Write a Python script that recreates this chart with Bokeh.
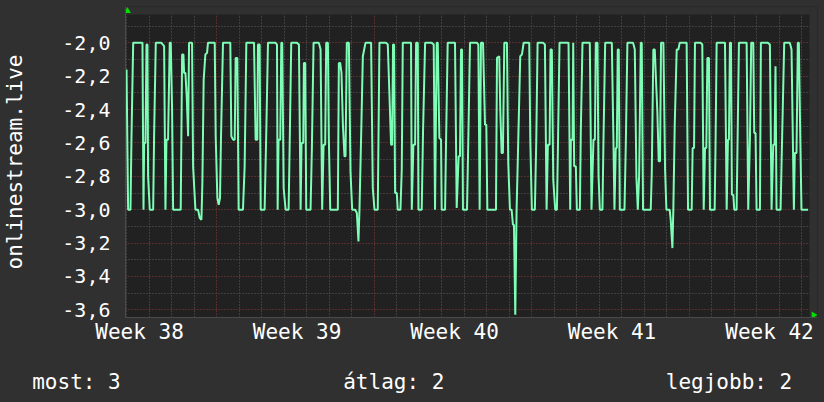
import math
from bokeh.plotting import figure
from bokeh.layouts import column
from bokeh.models import FixedTicker, Range1d, ColumnDataSource
from bokeh.core.properties import value
from bokeh.embed import file_html
from bokeh.resources import INLINE

# ---- data (hours from left edge of graph, value) ----
hours = [
    1.1, 2.8, 5.3, 6.4, 8.2, 18.1, 19.2, 19.9, 21.3, 22.4, 23.4, 24.1, 25.9, 29.5, 30.5,
    32.3, 38.3, 41.2, 42.6, 43.7, 45.4, 47.2, 48.3, 49.7, 50.8, 58.9, 60.4, 61.8, 62.5, 63.9,
    65.3, 66.8, 67.8, 71.0, 72.1, 74.6, 77.4, 79.2, 81.0, 82.0, 83.4, 85.2, 87.0, 88.0, 95.2,
    96.2, 98.0, 99.4, 100.8, 101.9, 104.0, 111.8, 112.9, 114.7, 116.5, 117.5, 119.3, 120.7, 125.3, 127.1,
    128.9, 137.1, 138.8, 140.6,
    141.3, 143.1, 144.2, 148.4, 150.2, 152.0, 160.1, 161.6, 162.3, 163.3, 165.1, 166.2, 167.2, 168.7, 170.8,
    174.0, 175.0, 176.8, 182.9, 185.0, 186.8, 187.8, 189.6, 190.3, 191.7, 192.8, 197.4, 198.8, 200.6, 206.3,
    208.1, 209.8, 211.3, 213.0, 214.1, 215.9, 216.9, 218.4, 226.5, 227.6, 229.0, 230.4, 231.9, 233.6, 234.7,
    236.1, 238.3, 240.0, 241.8, 245.0, 246.8, 248.5, 249.6, 251.4, 253.2, 256.0, 262.0, 263.8, 265.6, 269.1,
    270.9, 278.0, 279.8, 283.3,
    284.4, 285.4, 286.5, 287.6, 289.4, 290.4, 293.3, 294.7, 295.8, 304.6, 305.4, 307.1, 308.9, 310.0, 311.8,
    312.5, 316.0, 317.4, 319.6, 326.7, 328.8, 330.2, 332.0, 333.1, 334.8, 336.6, 337.3, 340.9, 341.9, 343.7,
    351.5, 353.3, 355.4, 356.8, 357.9, 359.0, 360.0, 364.3, 365.7, 367.5, 375.0, 376.4, 377.8, 379.2, 381.4,
    383.5, 384.9, 386.0, 395.2, 396.3, 398.7, 399.8, 401.2, 402.6, 404.1, 406.9, 408.3, 410.1, 411.9, 413.3,
    414.4, 415.8, 417.2, 419.0, 421.1, 422.9, 424.7, 430.7, 431.8,
    433.5, 436.7, 438.2, 439.6, 445.6, 447.4, 449.2, 450.6, 452.4, 453.4, 454.8, 456.3, 458.4, 460.2, 461.2,
    463.0, 472.6, 474.4, 475.1, 476.9, 477.6, 478.6, 480.4, 481.5, 484.7, 485.7, 487.5, 495.3, 497.1, 499.2,
    500.7, 501.7, 503.5, 504.6, 506.0, 508.8, 509.9, 511.7, 518.8, 520.5, 521.6, 523.0, 524.1, 525.1, 526.2,
    527.3, 532.3, 533.7, 535.4, 541.5, 543.3, 545.0, 546.5, 547.9, 549.7, 550.7, 552.1, 560.3, 561.4, 563.1,
    564.6, 565.6, 567.4, 568.8, 570.2, 571.3, 573.8, 575.6, 577.0,
    580.5, 581.6, 583.4, 584.4, 585.9, 588.0, 589.8, 591.2, 598.6, 600.1, 604.0, 605.0, 606.5, 607.5, 613.6,
    615.3, 616.8, 618.2, 619.6, 620.7, 622.4, 623.5, 628.5, 629.5, 630.6, 639.5, 641.3, 642.7, 643.7, 644.8,
    645.9, 646.9, 648.4, 649.4, 651.9, 653.0, 654.4, 662.6, 664.3, 666.1, 667.5, 669.7, 670.7, 672.1, 673.2,
    676.8, 677.8, 685.3, 687.4, 689.2, 691.0, 692.4, 693.4, 694.5, 698.8, 700.6, 702.7, 708.7, 710.5, 713.0,
    714.0, 715.8, 717.2, 718.3, 719.7, 721.1, 728.2,
]
values = [
    -2.16, -3.0, -3.0, -2.56, -2.0, -2.0, -3.0, -2.6, -2.6, -2.01, -2.01, -2.8, -3.0, -3.0, -2.56,
    -2.0, -2.0, -2.02, -3.0, -2.58, -2.58, -2.0, -2.0, -2.4, -3.0, -3.0, -2.07, -2.07, -2.18, -2.18,
    -2.32, -2.56, -2.0, -2.0, -2.74, -3.0, -3.0, -3.05, -3.06, -2.84, -2.22, -2.07, -2.06, -2.0, -2.0,
    -2.56, -2.93, -2.97, -2.93, -2.56, -2.0, -2.0, -2.56, -2.58, -2.58, -2.09, -2.09, -3.0, -3.0, -2.74,
    -2.0, -2.0, -2.58, -2.58,
    -2.01, -2.01, -3.0, -3.0, -2.53, -2.0, -2.0, -2.01, -3.0, -2.58, -2.58, -2.0, -2.0, -2.87, -3.0,
    -3.0, -2.66, -2.0, -2.0, -2.01, -3.0, -2.6, -2.6, -2.12, -2.12, -3.0, -3.0, -2.64, -2.0, -2.0,
    -2.04, -3.0, -2.61, -2.61, -2.0, -2.0, -2.57, -3.0, -3.0, -2.12, -2.12, -2.18, -2.49, -2.68, -2.68,
    -2.0, -2.0, -2.77, -3.0, -3.0, -3.02, -3.19, -3.0, -2.55, -2.08, -2.0, -2.0, -2.87, -3.0, -3.0,
    -2.0, -2.0, -2.01, -2.61,
    -2.61, -2.01, -2.01, -2.9, -2.9, -3.0, -3.0, -2.76, -2.0, -2.0, -3.0, -2.61, -2.61, -2.0, -2.0,
    -3.0, -3.0, -2.53, -2.0, -2.0, -2.01, -3.0, -2.0, -2.0, -2.57, -2.58, -3.0, -3.0, -2.61, -2.0,
    -2.0, -2.99, -2.68, -2.68, -2.04, -2.04, -3.0, -3.0, -2.58, -2.0, -2.0, -2.01, -3.0, -2.0, -2.0,
    -2.49, -2.49, -3.0, -3.0, -2.09, -2.08, -2.4, -2.66, -2.66, -2.0, -2.0, -2.72, -3.0, -3.0, -3.09,
    -3.09, -3.63, -3.0, -2.58, -2.08, -2.07, -2.0, -2.0, -2.58,
    -3.0, -3.0, -2.58, -2.0, -2.0, -2.01, -3.0, -2.61, -2.61, -2.04, -2.04, -2.82, -3.0, -3.0, -2.66,
    -2.0, -2.0, -3.0, -2.58, -2.58, -2.0, -2.74, -2.74, -3.0, -3.0, -2.53, -2.0, -2.0, -3.0, -2.58,
    -2.58, -2.0, -2.0, -2.79, -3.0, -3.0, -2.58, -2.0, -2.0, -2.58, -3.0, -2.63, -2.63, -2.04, -2.04,
    -3.0, -3.0, -2.61, -2.0, -2.0, -2.04, -2.8, -3.0, -2.8, -2.0, -2.0, -3.0, -3.0, -2.78, -2.04,
    -2.04, -2.18, -2.42, -2.71, -2.71, -2.0, -2.0, -2.76, -3.0,
    -3.0, -3.06, -3.23, -3.0, -2.49, -2.04, -2.04, -2.0, -2.0, -3.0, -3.0, -2.63, -2.63, -2.0, -2.0,
    -2.01, -3.0, -2.63, -2.63, -2.09, -2.09, -3.0, -3.0, -2.58, -2.0, -2.0, -3.0, -2.58, -2.58, -2.0,
    -2.0, -2.91, -2.91, -3.0, -3.0, -2.56, -2.0, -2.0, -3.0, -2.58, -2.0, -2.0, -2.54, -2.54, -3.0,
    -3.0, -2.0, -2.0, -2.01, -3.0, -2.61, -2.61, -2.14, -3.0, -3.0, -2.53, -2.0, -2.0, -2.04, -3.0,
    -2.66, -2.66, -2.0, -2.0, -2.52, -3.0, -3.0,
]

y_ticks = [-2.0, -2.2, -2.4, -2.6, -2.8, -3.0, -3.2, -3.4, -3.6]
y_tick_labels = ["-2,0", "-2,2", "-2,4", "-2,6", "-2,8", "-3,0", "-3,2", "-3,4", "-3,6"]
y_minor = [-1.9, -2.1, -2.3, -2.5, -2.7, -2.9, -3.1, -3.3, -3.5]

week_label_hours = [15, 183, 351, 519, 687]
week_labels = ["Week 38", "Week 39", "Week 40", "Week 41", "Week 42"]
week_start_hours = [97.5, 265.5, 433.5, 601.5]
day_hours = [1.5, 25.5, 49.5, 73.5, 121.5, 145.5, 169.5, 193.5, 217.5, 241.5,
             289.5, 313.5, 337.5, 361.5, 385.5, 409.5, 457.5, 481.5, 505.5, 529.5,
             553.5, 577.5, 625.5, 649.5, 673.5, 697.5, 721.5]

series_name = "onlinestream.live"
legend_names = ["most", "átlag", "legjobb"]
legend_values = [3, 2, 2]

# ---- styling / geometry ----
FONT = "DejaVu Sans Mono"
TEXT = "#ffffff"
OUTER = "#303030"
INNER = "#212121"
X_END, X_PAD = 729.7, 8.5        # graph time span (h) and room for the axis arrow
Y_MIN, Y_MAX, Y_PAD = -3.646, -1.830, 0.048

p = figure(width=824, height=352,
           x_range=Range1d(0, X_END + X_PAD), y_range=Range1d(Y_MIN, Y_MAX + Y_PAD),
           output_backend="svg", toolbar_location=None,
           min_border_left=124, min_border_right=7, min_border_top=6, min_border_bottom=35,
           background_fill_color=INNER, border_fill_color=OUTER,
           outline_line_color=None)

# grids
p.xgrid.ticker = FixedTicker(ticks=week_start_hours, minor_ticks=day_hours)
p.ygrid.ticker = FixedTicker(ticks=y_ticks, minor_ticks=y_minor)
for g in (p.xgrid, p.ygrid):
    g.grid_line_color = "#8c3c3c"
    g.grid_line_dash = "1 2"
    g.grid_line_width = 1
    g.minor_grid_line_color = "#5e5e5e"
    g.minor_grid_line_dash = "1 2"
    g.minor_grid_line_width = 1

# axes
p.xaxis.ticker = FixedTicker(ticks=week_label_hours)
p.xaxis.major_label_overrides = {h: lab for h, lab in zip(week_label_hours, week_labels)}
p.yaxis.ticker = FixedTicker(ticks=y_ticks)
p.yaxis.major_label_overrides = {t: lab for t, lab in zip(y_ticks, y_tick_labels)}
for ax in (p.xaxis, p.yaxis):
    ax.major_tick_line_color = None
    ax.minor_tick_line_color = None
    ax.major_tick_out = 0
    ax.major_tick_in = 0
    ax.axis_line_color = "#4a4a4a"
    ax.major_label_text_font = FONT
    ax.major_label_text_color = TEXT
p.xaxis.major_label_text_font_size = "21px"
p.yaxis.major_label_text_font_size = "20px"
p.xaxis.major_label_standoff = 2
p.yaxis.major_label_standoff = 15
p.yaxis.axis_label = series_name
p.yaxis.axis_label_text_font = FONT
p.yaxis.axis_label_text_font_size = "21px"
p.yaxis.axis_label_text_font_style = "normal"
p.yaxis.axis_label_text_color = TEXT
p.yaxis.axis_label_standoff = 32

# strips outside the graph area (room for the arrows)
p.quad(left=[0, X_END], right=[X_END + X_PAD, X_END + X_PAD],
       bottom=[Y_MAX, Y_MIN], top=[Y_MAX + Y_PAD, Y_MAX + Y_PAD],
       fill_color=OUTER, line_color=None)

p.line(hours, values, line_color="#7dfdb5", line_width=2)

# axis arrows
p.scatter(x=[2.1], y=[Y_MAX + 0.021], marker="triangle", size=7,
          fill_color="#00dd00", line_color=None)
p.scatter(x=[X_END + 4.4], y=[Y_MIN + 0.015], marker="triangle", size=7,
          angle=-math.pi / 2, fill_color="#00dd00", line_color=None)

# ---- summary row (current / average / maximum) ----
p2 = figure(width=824, height=50, x_range=Range1d(0, 824), y_range=Range1d(50, 0),
            output_backend="svg", toolbar_location=None,
            x_axis_type=None, y_axis_type=None,
            min_border_left=0, min_border_right=0, min_border_top=0, min_border_bottom=0,
            background_fill_color=OUTER, border_fill_color=OUTER, outline_line_color=None)
if "frame_align" in p2.properties():
    p2.frame_align = False
    p.frame_align = False
p2.grid.visible = False
# background over the whole row (hides any seam at the frame edge)
p2.quad(left=[-10], right=[834], bottom=[60], top=[-10], fill_color=OUTER, line_color=None)
leg = ColumnDataSource(dict(
    x=[31.7, 393.3, 791.7],
    y=[29.7, 29.7, 29.7],
    text=[f"{n}: {v}" for n, v in zip(legend_names, legend_values)],
    align=["left", "center", "right"],
))
p2.text(x="x", y="y", text="text", text_align="align", source=leg,
        text_baseline="alphabetic", text_font=value(FONT), text_font_size="21px",
        text_color=TEXT)

layout = column(p, p2, spacing=0, styles={"background-color": OUTER})
open("out.html", "w").write(file_html(layout, INLINE))
